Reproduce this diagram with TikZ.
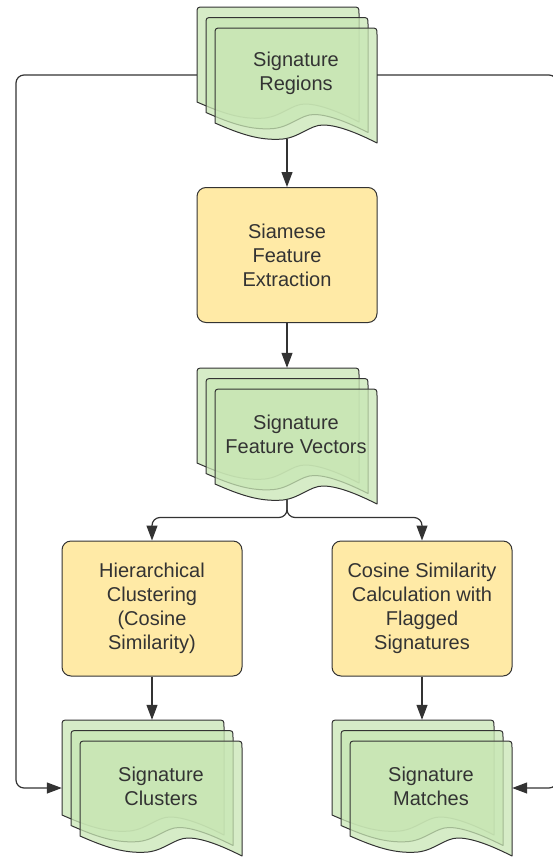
\documentclass[tikz,border=0pt]{standalone}
\usepackage{fontspec}
\setmainfont{Liberation Sans}
\usetikzlibrary{arrows.meta,calc}
\definecolor{ink}{HTML}{333333}
\definecolor{docgreen}{HTML}{C8E6B4}
\definecolor{procyellow}{HTML}{FFEAA6}
\tikzset{
  pagestyle/.style={draw=ink, line width=1pt, fill=docgreen, fill opacity=0.75, line join=round},
  stackbox/.style={draw=none, minimum width=180pt, minimum height=136pt, inner sep=0pt},
  doctext/.style={align=center, text=ink, font=\fontsize{20pt}{24pt}\selectfont, inner sep=0pt},
  procbox/.style={draw=ink, line width=1pt, fill=procyellow, rounded corners=9pt,
    minimum width=180pt, minimum height=135pt, align=center, text=ink,
    font=\fontsize{20pt}{24pt}\selectfont, inner sep=2pt},
  conn/.style={draw=ink, line width=1.2pt, rounded corners=8pt,
    -{Triangle[length=15pt,width=11pt]}}
}
\newcommand{\onepage}[2]{%
  \path[pagestyle, shift={(#1,#2)}] (0,95) -- (0,7) .. controls (0,0) .. (7,0) -- (155,0)
    .. controls (162,0) .. (162,7) -- (162,115)
    .. controls (148,108) and (125,97) .. (108,97)
    .. controls (95,97) and (85,109) .. (68,111)
    .. controls (45,113) and (25,106) .. (0,95) -- cycle;}
\newcommand{\multidoc}[4]{%
  \onepage{#1}{#2}%
  \onepage{#1+9}{#2+10.5}%
  \onepage{#1+18}{#2+21}%
  \node[stackbox] (#3) at (#1+90,#2+68) {};%
  \node[doctext] (#3-text) at (#1+99,#2+66) {#4};}
\begin{document}
\begin{tikzpicture}[x=1pt, y=-1pt]
\useasboundingbox (0,0) rectangle (552,857);
% documents
\multidoc{197}{7}{regions}{Signature\\Regions}
\multidoc{197}{368}{features}{Signature\\Feature Vectors}
\multidoc{62}{720}{clusters}{Signature\\Clusters}
\multidoc{332}{720}{matches}{Signature\\Matches}
% process boxes
\node[procbox] (box1) at (287,255) {Siamese\\Feature\\Extraction};
\node[procbox] (box2) at (152,608.5) {Hierarchical\\Clustering\\(Cosine\\Similarity)};
\node[procbox] (box3) at (422,608.5) {Cosine Similarity\\Calculation with\\Flagged\\Signatures};
% connectors
\coordinate (lx) at (16,400);
\coordinate (rx) at (557,400);
\draw[conn] ([yshift=4.5pt]regions.south) -- (box1.north);
\draw[conn] (box1.south) -- (features.north);
\draw[conn] ([yshift=4.5pt]features.south) |- ([yshift=23pt]box2.north) -- (box2.north);
\draw[conn] ([yshift=4.5pt]features.south) |- ([yshift=23pt]box3.north) -- (box3.north);
\draw[conn] (box2.south) -- (clusters.north);
\draw[conn] (box3.south) -- (matches.north);
\draw[conn] (regions.west) -| (lx) |- (clusters.west);
\draw[conn] (regions.east) -| (rx) |- (matches.east);
\end{tikzpicture}
\end{document}
